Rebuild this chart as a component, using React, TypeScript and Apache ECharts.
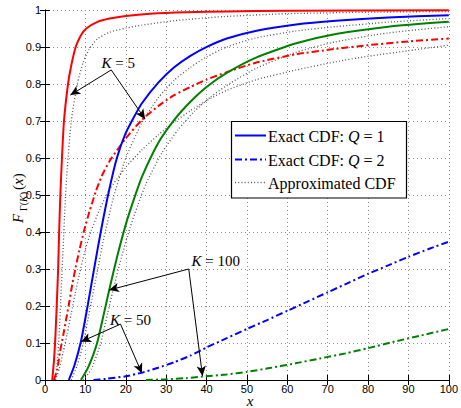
import React, { useEffect, useRef } from 'react';
import * as echarts from 'echarts';

// ---- data (x, F) ----
const k5q1Exact = [[1.8,0],[2.2,0.05],[2.5,0.1],[2.9,0.2],[3.25,0.3],[3.5,0.4],[3.8,0.5],[4.2,0.6],[4.7,0.7],[5.7,0.8],[6.5,0.85],[7.6,0.9],[8.8,0.93],[10.2,0.95],[13,0.968],[16,0.977],[20,0.984],[26,0.99],[35,0.994],[45,0.996],[60,0.998],[100,0.999]];
const k5q1Approx = [[2.5,0],[3,0.04],[3.5,0.12],[4,0.24],[4.5,0.36],[5,0.48],[5.5,0.57],[6.5,0.7],[8,0.8],[9.5,0.86],[11,0.895],[13,0.922],[16,0.94],[20,0.951],[24,0.959],[32,0.971],[44,0.982],[60,0.99],[80,0.994],[100,0.996]];
const k5q2Exact = [[2.2,0],[3,0.027],[3.7,0.075],[4.5,0.12],[5.3,0.168],[6,0.21],[6.75,0.258],[7.6,0.305],[8.5,0.35],[9.7,0.405],[11,0.455],[12.6,0.51],[14,0.55],[16,0.592],[20,0.653],[24,0.703],[28,0.74],[32,0.77],[36,0.792],[40,0.812],[45,0.832],[52,0.857],[62,0.88],[72,0.895],[80,0.905],[90,0.915],[100,0.923]];
const k5q2Approx = [[2.6,0],[3.5,0.03],[4.5,0.075],[5.5,0.125],[6.5,0.18],[7.5,0.235],[8.5,0.285],[9.8,0.345],[11.5,0.405],[13.5,0.46],[16,0.515],[20,0.575],[24,0.622],[28,0.662],[32,0.697],[36,0.728],[40,0.755],[45,0.783],[52.4,0.812],[62.2,0.838],[72,0.86],[80,0.875],[90,0.89],[100,0.905]];
const k50q1Exact = [[5.9,0],[7.3,0.04],[8.9,0.104],[10.6,0.203],[12.2,0.303],[13.8,0.4],[15.9,0.514],[17.8,0.6],[19.9,0.665],[22,0.71],[24,0.748],[28,0.803],[32,0.845],[36,0.876],[40.2,0.901],[45,0.923],[52.4,0.944],[62.2,0.961],[72,0.971],[85,0.98],[100,0.986]];
const k50q1Approx = [[6.5,0],[8,0.04],[9.5,0.1],[11.2,0.195],[12.9,0.29],[14.6,0.385],[17,0.495],[20,0.6],[24,0.695],[28,0.762],[32,0.81],[36,0.845],[40,0.873],[45,0.9],[52,0.924],[62,0.943],[72,0.955],[85,0.967],[100,0.977]];
const k100q1Exact = [[8.9,0],[10.5,0.03],[12,0.07],[13,0.104],[14.6,0.18],[15.9,0.243],[17.9,0.335],[20,0.42],[22,0.488],[24,0.549],[28,0.64],[32,0.703],[36,0.752],[40,0.792],[45,0.83],[52.4,0.872],[62.2,0.91],[72,0.935],[85,0.955],[100,0.968]];
const k100q1Approx = [[9.5,0],[11.5,0.03],[13.8,0.1],[15.5,0.18],[16.8,0.24],[18.9,0.33],[21,0.41],[23,0.473],[25,0.53],[29,0.615],[33,0.677],[37,0.726],[41,0.765],[46,0.803],[52.4,0.843],[62.2,0.886],[72,0.914],[85,0.938],[100,0.955]];
const k50q2Exact = [[12,0],[15,0.003],[20,0.01],[24,0.02],[28,0.033],[32,0.048],[36,0.066],[40,0.088],[45,0.113],[50,0.138],[55,0.162],[60,0.187],[65,0.212],[70,0.237],[75,0.262],[80,0.287],[85,0.31],[90,0.333],[95,0.354],[100,0.374]];
const k100q2Exact = [[25,0],[30,0.002],[35,0.005],[38.6,0.009],[45,0.015],[50,0.022],[56,0.033],[62,0.045],[68,0.058],[74.4,0.072],[80,0.086],[86.6,0.104],[93,0.12],[100,0.138]];

// annotation arrows (data coords): [from, to]
const arrowsK5 = [[[16.4,0.838],[6.27,0.77]],[[16.4,0.838],[24.8,0.705]]];
const arrowsK100 = [[[35.6,0.3],[15.85,0.243]],[[35.6,0.3],[39.0,0.011]]];
const arrowsK50 = [[[18.7,0.151],[8.95,0.1035]],[[18.7,0.151],[24.0,0.018]]];

const legendLabels = ['Q = 1', 'Q = 2'];

const SERIF = '"Liberation Serif", "DejaVu Serif", serif';
const SANS = '"Liberation Sans", Arial, sans-serif';
const RED = '#ff0000', BLUE = '#0000ff', GREEN = '#008000', DOT = '#555555';
const DASHDOT: number[] = [7, 3, 2, 3];
const DOTTED: number[] = [1, 2.2];

function exact(data: number[][], color: string, dash: boolean) {
  return {
    type: 'line', data, showSymbol: false, symbol: 'none', smooth: 0.2,
    lineStyle: { color, width: 2, type: dash ? DASHDOT : 'solid' }, silent: true, z: 3,
  };
}
function approx(data: number[][]) {
  return {
    type: 'line', data, showSymbol: false, symbol: 'none', smooth: 0.2,
    lineStyle: { color: DOT, width: 1.3, type: DOTTED }, silent: true, z: 2,
  };
}

const richBase = {
  n: { fontFamily: SERIF, fontSize: 15, fill: '#000' },
  i: { fontFamily: SERIF, fontSize: 15, fontStyle: 'italic', fill: '#000' },
};

export default function App() {
  const ref = useRef<HTMLDivElement>(null);
  useEffect(() => {
    document.body.style.margin = '0';
    const chart = echarts.init(ref.current!, null, { renderer: 'svg' });
    const arrowData = [...arrowsK5, ...arrowsK100, ...arrowsK50].map(([a, b]) => [
      { coord: a }, { coord: b },
    ]);
    const axisCommon = {
      axisLine: { show: true, lineStyle: { color: '#000', width: 1 } },
      axisTick: { show: true, inside: true, length: 5, lineStyle: { color: '#000' } },
    };
    const legRich = {
      n: { fontFamily: SERIF, fontSize: 16, fill: '#000' },
      i: { fontFamily: SERIF, fontSize: 16, fontStyle: 'italic', fill: '#000' },
    };
    chart.setOption({
      animation: false,
      grid: { left: 45, right: 6, top: 10, bottom: 28, containLabel: false },
      xAxis: [
        {
          type: 'value', min: 0, max: 100, interval: 10, position: 'bottom', ...axisCommon,
          axisLabel: { fontFamily: SANS, fontSize: 11, color: '#000', margin: 3 },
          splitLine: { show: true, lineStyle: { color: '#8a8a8a', type: [1, 3], width: 1 } },
        },
        {
          type: 'value', min: 0, max: 100, interval: 10, position: 'top', ...axisCommon,
          axisLabel: { show: false }, splitLine: { show: false },
        },
      ],
      yAxis: [
        {
          type: 'value', min: 0, max: 1, interval: 0.1, position: 'left', ...axisCommon,
          axisLabel: {
            fontFamily: SANS, fontSize: 11, color: '#000', margin: 4,
            formatter: (v: number) => (v === 0 ? '0' : v >= 0.999 ? '1' : v.toFixed(1)),
          },
          splitLine: { show: true, lineStyle: { color: '#8a8a8a', type: [1, 3], width: 1 } },
        },
        {
          type: 'value', min: 0, max: 1, interval: 0.1, position: 'right', ...axisCommon,
          axisLabel: { show: false }, splitLine: { show: false },
        },
      ],
      series: [
        approx(k5q1Approx),
        approx(k5q2Approx),
        approx(k50q1Approx),
        approx(k100q1Approx),
        exact(k5q1Exact, RED, false),
        exact(k5q2Exact, RED, true),
        exact(k50q1Exact, BLUE, false),
        exact(k50q2Exact, BLUE, true),
        exact(k100q1Exact, GREEN, false),
        {
          ...exact(k100q2Exact, GREEN, true),
          markLine: {
            silent: true, symbol: ['none', 'arrow'], symbolSize: [7, 10], precision: 4,
            label: { show: false }, emphasis: { disabled: true },
            lineStyle: { color: '#000', width: 1, type: 'solid' },
            data: arrowData,
          },
        },
      ],
      graphic: [
        // annotation labels
        { type: 'text', x: 101.5, y: 62.5, z: 10, style: { text: '{i|K}{n| = 5}', rich: richBase, verticalAlign: 'middle', align: 'left' } },
        { type: 'text', x: 191.5, y: 261, z: 10, style: { text: '{i|K}{n| = 100}', rich: richBase, verticalAlign: 'middle', align: 'left' } },
        { type: 'text', x: 110, y: 320, z: 10, style: { text: '{i|K}{n| = 50}', rich: richBase, verticalAlign: 'middle', align: 'left' } },
        // legend
        { type: 'rect', z: 20, shape: { x: 231.5, y: 121.5, width: 175, height: 76.5 }, style: { fill: '#fff', stroke: '#000', lineWidth: 1.2 } },
        { type: 'line', z: 21, shape: { x1: 235, y1: 135.5, x2: 266, y2: 135.5 }, style: { stroke: BLUE, lineWidth: 2 } },
        { type: 'line', z: 21, shape: { x1: 235, y1: 159.5, x2: 266, y2: 159.5 }, style: { stroke: BLUE, lineWidth: 2, lineDash: DASHDOT } },
        { type: 'line', z: 21, shape: { x1: 235, y1: 182.5, x2: 266, y2: 182.5 }, style: { stroke: DOT, lineWidth: 1.3, lineDash: DOTTED } },
        { type: 'text', z: 21, x: 268, y: 136, style: { text: `{n|Exact CDF: }{i|Q}{n|${legendLabels[0].slice(1)}}`, rich: legRich, verticalAlign: 'middle', align: 'left' } },
        { type: 'text', z: 21, x: 268, y: 160, style: { text: `{n|Exact CDF: }{i|Q}{n|${legendLabels[1].slice(1)}}`, rich: legRich, verticalAlign: 'middle', align: 'left' } },
        { type: 'text', z: 21, x: 268, y: 183, style: { text: '{n|Approximated CDF}', rich: legRich, verticalAlign: 'middle', align: 'left' } },
        // x axis title
        { type: 'text', x: 250, y: 401, style: { text: 'x', fontFamily: SERIF, fontSize: 15, fontStyle: 'italic', fill: '#000', align: 'center', verticalAlign: 'middle' } },
        // y axis title (rotated)
        {
          type: 'group', x: 18, y: 196, rotation: Math.PI / 2,
          children: [
            { type: 'text', x: -27, y: 0, style: { text: 'F', fontFamily: SERIF, fontSize: 15, fontStyle: 'italic', fill: '#000', align: 'left', verticalAlign: 'middle' } },
            { type: 'text', x: -15, y: 5, style: { text: '{n|Γ(}{i|K}{n|)}', rich: { n: { fontFamily: SERIF, fontSize: 10, fill: '#000' }, i: { fontFamily: SERIF, fontSize: 10, fontStyle: 'italic', fill: '#000' } }, align: 'left', verticalAlign: 'middle' } },
            { type: 'text', x: 6, y: 0, style: { text: '{n|(}{i|x}{n|)}', rich: richBase, align: 'left', verticalAlign: 'middle' } },
          ],
        },
      ],
    });
    return () => chart.dispose();
  }, []);
  return <div ref={ref} style={{ width: 461, height: 408 }} />;
}
